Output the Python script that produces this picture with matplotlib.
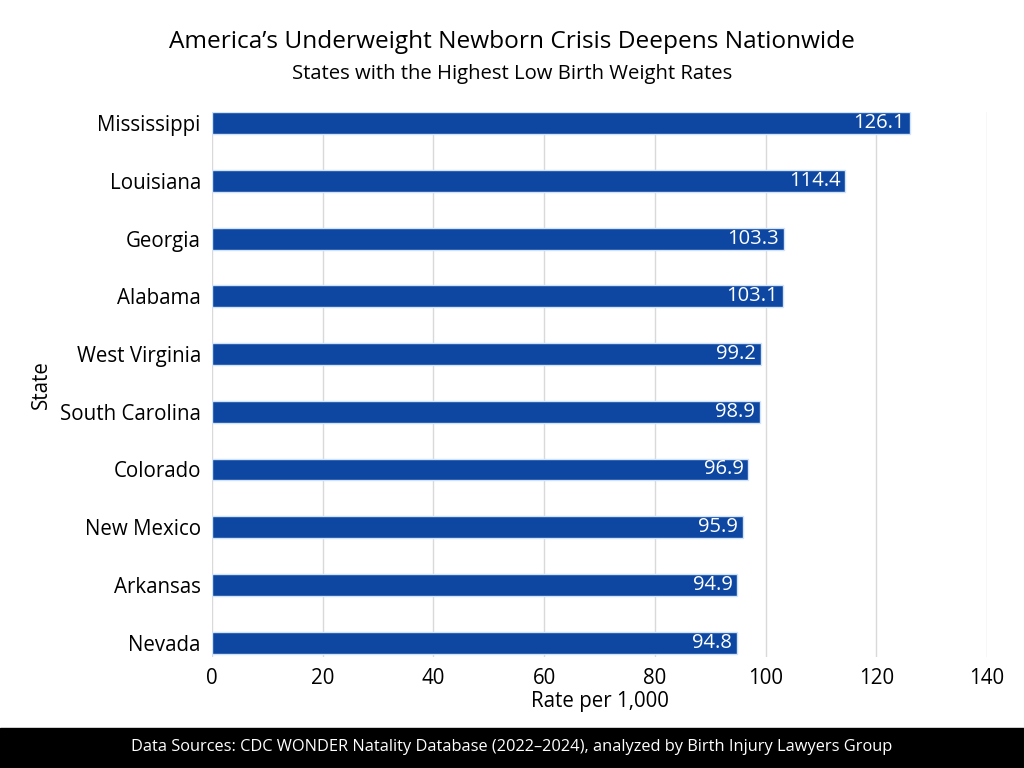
import matplotlib.pyplot as plt
from matplotlib.patches import Rectangle

plt.rcParams['font.family'] = ['Open Sans', 'DejaVu Sans']

states = ["Mississippi", "Louisiana", "Georgia", "Alabama", "West Virginia",
          "South Carolina", "Colorado", "New Mexico", "Arkansas", "Nevada"]
rates = [126.1, 114.4, 103.3, 103.1, 99.2, 98.9, 96.9, 95.9, 94.9, 94.8]
xticks = [0, 20, 40, 60, 80, 100, 120, 140]

fig = plt.figure(figsize=(10.24, 7.68), dpi=100)
ax = fig.add_axes([0.207, 0.1445, 0.757, 0.71])

ypos = list(range(len(states)))[::-1]
ax.barh(ypos, rates, height=0.38, color="#0d47a1", edgecolor="#cfe3fb",
        linewidth=1, zorder=3)

for y, v in zip(ypos, rates):
    ax.text(v - 0.9, y, f"{v:.1f}", color="white", ha="right", va="center",
            fontsize=14.5, zorder=4)

ax.set_yticks(ypos)
ax.set_yticklabels(states, fontsize=14.8)
ax.set_xticks(xticks)
ax.set_xticklabels([str(t) for t in xticks], fontsize=14.8)
ax.set_xlim(0, 140)
ax.set_ylim(-0.25, 9.2)
ax.tick_params(length=0, pad=8)
ax.grid(axis="x", color="#d9d9d9", linewidth=1, zorder=0)
for s in ax.spines.values():
    s.set_visible(False)

ax.set_xlabel("Rate per 1,000", fontsize=14.8, labelpad=1)
ax.set_ylabel("State", fontsize=14.8, labelpad=6)

fig.text(0.5, 0.945, "America’s Underweight Newborn Crisis Deepens Nationwide",
         ha="center", va="center", fontsize=17.6)
fig.text(0.5, 0.903, "States with the Highest Low Birth Weight Rates",
         ha="center", va="center", fontsize=14.6)

# black footer band
fig.patches.append(Rectangle((0, 0), 1, 0.052, transform=fig.transFigure,
                             color="black", zorder=0))
fig.text(0.5, 0.027, "Data Sources: CDC WONDER Natality Database (2022–2024), analyzed by Birth Injury Lawyers Group",
         ha="center", va="center", color="white", fontsize=11.8)

fig.savefig("out.png", dpi=100)
